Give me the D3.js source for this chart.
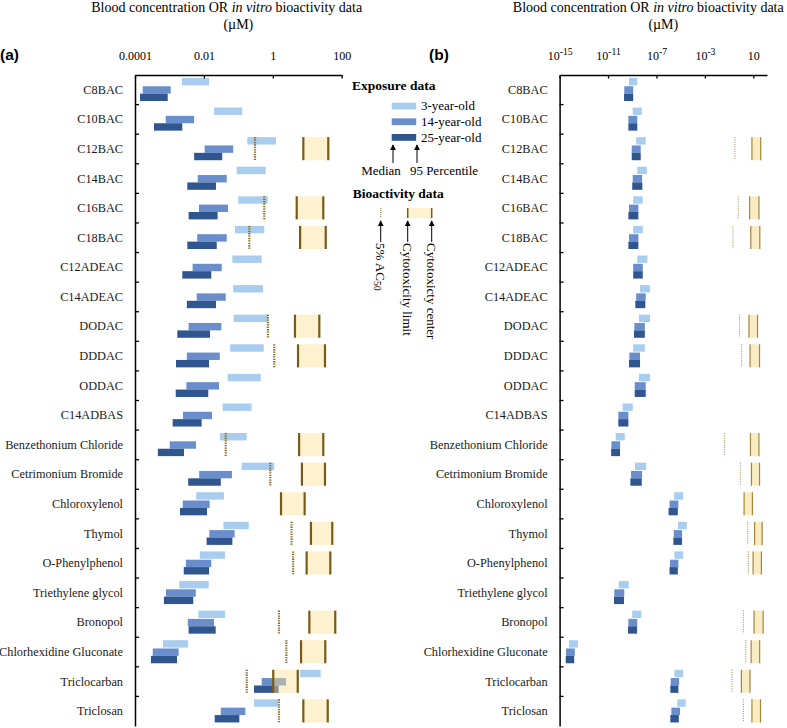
<!DOCTYPE html>
<html><head><meta charset="utf-8">
<script src="https://cdn.jsdelivr.net/npm/d3@7"></script>
<style>body{margin:0;background:#fff}</style>
</head><body><svg id="c" width="787" height="728"></svg>
<script>
// ---------------- DATA (µM) ----------------
const categories = ["C8BAC","C10BAC","C12BAC","C14BAC","C16BAC","C18BAC","C12ADEAC","C14ADEAC","DODAC","DDDAC","ODDAC","C14ADBAS","Benzethonium Chloride","Cetrimonium Bromide","Chloroxylenol","Thymol","O-Phenylphenol","Triethylene glycol","Bronopol","Chlorhexidine Gluconate","Triclocarban","Triclosan"];
const ageGroups = ["3-year-old","14-year-old","25-year-old"];

// Panel (a) exposure: median and 95th percentile
const medianA3  = [2.3e-3,1.96e-2,0.182,8.9e-2,0.10,8.0e-2,6.7e-2,7.1e-2,7.3e-2,5.8e-2,4.9e-2,3.5e-2,2.9e-2,0.125,6.0e-3,3.7e-2,7.6e-3,1.93e-3,6.9e-3,6.5e-4,6.2,0.284];
const p95A3     = [1.41e-2,0.130,1.24,0.622,0.711,0.566,0.476,0.52,0.711,0.545,0.446,0.244,0.175,1.1,3.8e-2,0.20,4.1e-2,1.38e-2,4.1e-2,3.5e-3,24.5,1.45];
const medianA14 = [1.67e-4,7.8e-4,1.05e-2,6.6e-3,7.2e-3,6.4e-3,4.7e-3,6.2e-3,3.6e-3,3.2e-3,3.1e-3,2.47e-3,1.02e-3,7.3e-3,2.43e-3,1.44e-2,3.0e-3,7.9e-4,3.4e-3,3.27e-4,0.476,3.1e-2];
const p95A14    = [1.09e-3,5.2e-3,7.1e-2,4.6e-2,5.0e-2,4.6e-2,3.3e-2,4.3e-2,3.2e-2,2.9e-2,2.74e-2,1.72e-2,5.9e-3,6.5e-2,1.47e-2,7.8e-2,1.64e-2,5.8e-3,1.96e-2,1.85e-3,2.42,0.159];
const medianA25 = [1.40e-4,3.56e-4,5.2e-3,3.3e-3,3.6e-3,3.3e-3,2.36e-3,3.2e-3,1.69e-3,1.55e-3,1.52e-3,1.24e-3,4.6e-4,3.5e-3,2.02e-3,1.2e-2,2.6e-3,6.9e-4,3.6e-3,2.9e-4,0.284,2.06e-2];
const p95A25    = [8.9e-4,2.36e-3,3.4e-2,2.24e-2,2.5e-2,2.36e-2,1.64e-2,2.24e-2,1.50e-2,1.41e-2,1.34e-2,8.6e-3,2.64e-3,3.1e-2,1.23e-2,6.7e-2,1.41e-2,4.9e-3,2.2e-2,1.66e-3,1.48,0.107];

// Panel (b) exposure: median and 95th percentile
const medianB3  = [5.4e-10,1.1e-9,2.1e-9,2.6e-9,1.2e-9,1.2e-9,2.6e-9,4.4e-9,3.6e-9,1.2e-9,3.6e-9,1.6e-10,4.3e-11,1.7e-9,2.9e-6,6.1e-6,3.0e-6,7.7e-11,1.0e-9,6.0e-15,3.0e-6,5.3e-6];
const p95B3     = [2.6e-9,6.1e-9,1.3e-8,1.6e-8,7.4e-9,7.4e-9,1.8e-8,3.0e-8,3.0e-8,1.1e-8,3.0e-8,1.1e-9,2.4e-10,1.4e-8,1.6e-5,3.2e-5,1.6e-5,5.1e-10,5.6e-9,3.3e-14,1.6e-5,2.6e-5];
const medianB14 = [2.2e-10,4.8e-10,9.1e-10,1.1e-9,5.4e-10,5.4e-10,1.2e-9,2.1e-9,1.5e-9,5.8e-10,1.6e-9,7.1e-11,1.9e-11,8.0e-10,1.2e-6,2.7e-6,1.3e-6,3.3e-11,4.8e-10,3.4e-15,1.5e-6,1.7e-6];
const p95B14    = [1.2e-9,2.6e-9,5.0e-9,6.5e-9,3.2e-9,3.2e-9,7.4e-9,1.3e-8,1.1e-8,4.4e-9,1.3e-8,4.8e-10,1.0e-10,6.5e-9,6.5e-6,1.3e-5,6.5e-6,2.2e-10,2.6e-9,1.8e-14,7.4e-6,8.9e-6];
const medianB25 = [2.1e-10,4.8e-10,9.1e-10,1.0e-9,4.8e-10,4.8e-10,1.2e-9,1.8e-9,1.4e-9,5.4e-10,1.6e-9,7.1e-11,1.8e-11,7.0e-10,1.0e-6,2.5e-6,1.2e-6,3.1e-11,4.5e-10,3.2e-15,1.4e-6,1.4e-6];
const p95B25    = [1.2e-9,2.6e-9,5.0e-9,6.8e-9,3.2e-9,3.2e-9,7.4e-9,1.2e-8,1.1e-8,4.4e-9,1.3e-8,4.8e-10,9.8e-11,6.1e-9,5.8e-6,1.3e-5,5.8e-6,2.1e-10,2.5e-9,1.6e-14,6.5e-6,7.0e-6];

// Bioactivity (same in both panels)
const ac50Pct5   = [null,null,0.304,null,0.566,0.208,null,null,0.72,1.1,null,null,4.3e-2,0.845,null,3.5,3.9,null,1.51,2.47,0.175,1.51];
const cytoLimit  = [null,null,7.7,null,4.94,6.2,null,null,4.4,5.4,null,null,5.8,7.0,1.73,12.8,9.6,null,11.5,6.6,1.03,7.7];
const cytoCenter = [null,null,40.8,null,29.2,34.4,null,null,22.4,32.7,null,null,29.2,32.7,8.4,53.3,46.7,null,65,33.4,5.3,39.3];

const ticksA = [1e-4,1e-2,1,100];
const tickLabelsA = ["0.0001","0.01","1","100"];
const ticksB = [1e-15,1e-11,1e-7,1e-3,10];

// ---------------- DRAW ----------------
const svg = d3.select("#c");
const serif = "'Liberation Serif','Times New Roman',serif";
const sans = "'Liberation Sans',Arial,sans-serif";
const colors = ["#a8cdef","#6a8ecb","#30568f"];

const defs = svg.append("defs");
defs.append("marker").attr("id","arr").attr("viewBox","0 0 8 8").attr("refX",7).attr("refY",4)
  .attr("markerWidth",6).attr("markerHeight",6).attr("markerUnits","userSpaceOnUse").attr("orient","auto")
  .append("path").attr("d","M0,0L8,4L0,8z").attr("fill","#000");

const y = d3.scaleBand().domain(categories).range([75,726]);
const bw = y.bandwidth();
const barOff = [0.10*bw, 0.38*bw, 0.63*bw];
const barH = 0.25*bw;

const xA = d3.scaleLog().domain([1e-4,100]).range([135,341.7]);
const xB = d3.scaleLog().domain([1e-15,135]).range([559.6,767]);

function panel(cfg){
  const x = cfg.x, x0 = x.range()[0];
  const g = svg.append("g");
  // titles
  g.append("text").attr("x",cfg.titleX).attr("y",12).attr("text-anchor","middle")
    .attr("font-family",serif).attr("font-size",14)
    .call(t=>{t.append("tspan").text("Blood concentration OR ");
              t.append("tspan").attr("font-style","italic").text("in vitro");
              t.append("tspan").text(" bioactivity data");});
  g.append("text").attr("x",(x.range()[0]+x.range()[1])/2).attr("y",29).attr("text-anchor","middle")
    .attr("font-family",serif).attr("font-size",14).text("(\u00b5M)");
  g.append("text").attr("x",cfg.letterX).attr("y",60).attr("font-family",sans)
    .attr("font-weight","bold").attr("font-size",15.5).text(cfg.letter);

  // exposure bars
  cfg.series.forEach((s,k)=>{
    g.append("g").selectAll("rect").data(categories).join("rect")
      .attr("x",(c,i)=>x(s.med[i]))
      .attr("width",(c,i)=>x(s.p95[i])-x(s.med[i]))
      .attr("y",c=>y(c)+barOff[k]).attr("height",barH)
      .attr("fill",colors[k]);
  });
  // bioactivity boxes
  const bio = categories.map((c,i)=>({c,i})).filter(d=>cytoLimit[d.i]!=null);
  g.append("g").selectAll("rect").data(bio).join("rect")
    .attr("x",d=>x(cytoLimit[d.i])).attr("width",d=>x(cytoCenter[d.i])-x(cytoLimit[d.i]))
    .attr("y",d=>y(d.c)+0.1*bw).attr("height",0.78*bw)
    .attr("fill",cfg.boxFill).attr("fill-opacity",cfg.boxOpacity);
  [cytoLimit,cytoCenter].forEach(arr=>{
    g.append("g").selectAll("line").data(bio).join("line")
      .attr("x1",d=>x(arr[d.i])).attr("x2",d=>x(arr[d.i]))
      .attr("y1",d=>y(d.c)+0.1*bw).attr("y2",d=>y(d.c)+0.88*bw)
      .attr("stroke",cfg.lineColor).attr("stroke-width",cfg.lineW);
  });
  const ac = categories.map((c,i)=>({c,i})).filter(d=>ac50Pct5[d.i]!=null);
  g.append("g").selectAll("line").data(ac).join("line")
    .attr("x1",d=>x(ac50Pct5[d.i])).attr("x2",d=>x(ac50Pct5[d.i]))
    .attr("y1",d=>y(d.c)+0.1*bw).attr("y2",d=>y(d.c)+0.88*bw)
    .attr("stroke",cfg.dotColor).attr("stroke-width",cfg.dotW).attr("stroke-dasharray",cfg.dash);

  // top axis
  const ax = d3.axisTop(x).tickValues(cfg.ticks).tickSizeInner(-3.5).tickSizeOuter(0).tickPadding(15)
    .tickFormat(cfg.fmt);
  const ga = g.append("g").attr("transform","translate(0,75)").call(ax);
  ga.attr("font-family",serif).attr("font-size",12);
  ga.select(".domain").attr("stroke-width",1.5);
  ga.selectAll(".tick line").attr("stroke-width",1.3);
  if(cfg.sup){
    ga.selectAll(".tick text").each(function(d){
      const t=d3.select(this); t.text(null);
      const e=Math.round(Math.log10(d));
      t.append("tspan").text("10");
      if(e!==1) t.append("tspan").attr("dy","-0.5em").attr("font-size","0.8em").text(String(e));
    });
  }
  // left axis
  const gl = g.append("g").attr("transform",`translate(${x0},0)`)
    .call(d3.axisLeft(y).tickSize(0).tickSizeOuter(0).tickPadding(12));
  gl.attr("font-family",serif).attr("font-size",12.3);
  gl.select(".domain").attr("stroke-width",1.5);
  gl.selectAll(".tick text").attr("fill","#1a1a1a");
  g.append("g").selectAll("line").data(categories.slice(1)).join("line")
    .attr("x1",x0).attr("x2",x0+4).attr("y1",c=>y(c)).attr("y2",c=>y(c))
    .attr("stroke","#000").attr("stroke-width",1.3);
}

panel({x:xA, titleX:226.7, letter:"(a)", letterX:0, ticks:ticksA,
  fmt:(d,i)=>tickLabelsA[i], sup:false,
  series:[{med:medianA3,p95:p95A3},{med:medianA14,p95:p95A14},{med:medianA25,p95:p95A25}],
  boxFill:"#fbdf94", boxOpacity:0.45, lineColor:"#7a5a14", lineW:2.2,
  dotColor:"#8a6a22", dotW:2.2, dash:"1.3,1.1"});
panel({x:xB, titleX:648.3, letter:"(b)", letterX:429, ticks:ticksB,
  fmt:()=>"", sup:true,
  series:[{med:medianB3,p95:p95B3},{med:medianB14,p95:p95B14},{med:medianB25,p95:p95B25}],
  boxFill:"#f5d985", boxOpacity:0.5, lineColor:"#a8843a", lineW:1.2,
  dotColor:"#a08850", dotW:1, dash:"1,1.3"});

// ---------------- LEGEND (panel a) ----------------
const lg = svg.append("g").attr("font-family",serif);
lg.append("text").attr("x",352).attr("y",90).attr("font-weight","bold").attr("font-size",13.5).text("Exposure data");
const legY = d3.scalePoint().domain(ageGroups).range([102.7,134]);
lg.selectAll("rect.sw").data(ageGroups).join("rect").attr("class","sw")
  .attr("x",391.7).attr("y",d=>legY(d)).attr("width",24.5).attr("height",6.8)
  .attr("fill",(d,i)=>colors[i]);
lg.selectAll("text.lab").data(ageGroups).join("text").attr("class","lab")
  .attr("x",421).attr("y",d=>legY(d)+7.6).attr("font-size",13).text(d=>d);
[[393,"Median",381],[417,"95 Percentile",444]].forEach(([ax,lab,tx])=>{
  lg.append("line").attr("x1",ax).attr("x2",ax).attr("y1",163).attr("y2",145)
    .attr("stroke","#000").attr("stroke-width",1).attr("marker-end","url(#arr)");
  lg.append("text").attr("x",tx).attr("y",175).attr("text-anchor","middle").attr("font-size",13).text(lab);
});
lg.append("text").attr("x",352.7).attr("y",198).attr("font-weight","bold").attr("font-size",13.5).text("Bioactivity data");
lg.append("line").attr("x1",380.7).attr("x2",380.7).attr("y1",208).attr("y2",218)
  .attr("stroke","#b0a080").attr("stroke-width",1.5).attr("stroke-dasharray","1,1");
lg.append("rect").attr("x",407.7).attr("y",208).attr("width",24).attr("height",10)
  .attr("fill","#fbdf94").attr("fill-opacity",0.45);
[407.7,431.7].forEach(lx=>lg.append("line").attr("x1",lx).attr("x2",lx).attr("y1",208).attr("y2",218)
  .attr("stroke","#7a5a14").attr("stroke-width",1.5));
[[380.7,["5% AC","50"]],[407.7,["Cytotoxicity limit"]],[431.7,["Cytotoxicty center"]]].forEach(([ax,lab])=>{
  lg.append("line").attr("x1",ax).attr("x2",ax).attr("y1",242).attr("y2",221)
    .attr("stroke","#000").attr("stroke-width",1).attr("marker-end","url(#arr)");
  const t = lg.append("text").attr("transform",`translate(${ax},243) rotate(90)`)
    .attr("dominant-baseline","central").attr("font-size",13);
  t.append("tspan").text(lab[0]);
  if(lab[1]) t.append("tspan").attr("dy","0.3em").attr("font-size","0.75em").text(lab[1]);
});
</script></body></html>
